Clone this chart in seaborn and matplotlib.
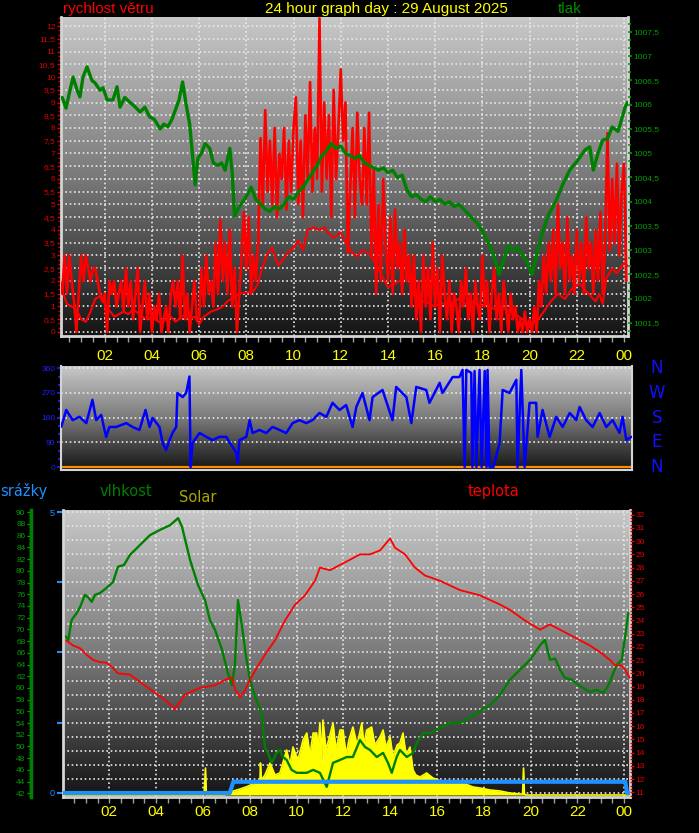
import numpy as np
import matplotlib
matplotlib.use("Agg")
import matplotlib.pyplot as plt
from matplotlib.ticker import MultipleLocator, FixedLocator, FuncFormatter
from matplotlib.colors import LinearSegmentedColormap
import seaborn as sns

sns.set_style("ticks")
plt.rcParams['font.family'] = ['Liberation Sans', 'DejaVu Sans']

# ---------------- data ----------------
hour_ticks = [2, 4, 6, 8, 10, 12, 14, 16, 18, 20, 22, 24]
hour_labels = ['02', '04', '06', '08', '10', '12', '14', '16', '18', '20', '22', '00']

# wind gust (m/s), one value every 6 minutes from 00:00
gust = [
    2.0, 2.0, 1.5, 3.0, 1.5, 3.0, 2.0, 1.2, 0.0, 1.5,
    3.0, 2.0, 3.0, 2.5, 2.0, 2.5, 2.5, 2.0, 1.5, 1.2,
    1.5, 0.0, 2.0, 1.5, 2.0, 1.0, 1.5, 2.0, 0.8, 2.5,
    1.0, 2.0, 0.5, 1.5, 2.5, 0.0, 1.0, 2.0, 0.5, 1.5,
    0.0, 1.0, 0.5, 1.5, 0.0, 0.5, 1.0, 0.0, 1.5, 2.0,
    1.0, 2.0, 0.5, 3.0, 0.5, 1.5, 0.0, 1.0, 2.0, 0.5,
    0.5, 2.5, 1.0, 3.0, 1.5, 2.0, 1.0, 3.5, 1.5, 4.4,
    2.0, 3.5, 1.5, 4.0, 1.0, 2.5, 0.0, 1.5, 3.0, 4.7,
    2.5, 4.5, 1.5, 3.0, 2.0, 3.5, 7.6, 5.0, 8.7, 5.5,
    7.5, 5.0, 8.0, 4.5, 7.0, 6.0, 8.0, 4.8, 7.5, 5.5,
    8.0, 9.2, 5.0, 7.5, 4.5, 8.5, 6.0, 9.8, 5.5, 8.0,
    6.0, 12.3, 5.5, 9.0, 6.0, 8.5, 4.5, 9.5, 6.0, 8.0,
    10.3, 7.5, 9.0, 3.1, 5.5, 8.0, 4.5, 8.6, 6.0, 5.0,
    8.0, 5.0, 8.6, 3.0, 6.4, 1.5, 5.0, 2.0, 6.0, 3.5,
    2.0, 4.5, 1.5, 4.8, 2.5, 3.5, 1.5, 4.0, 2.0, 3.0,
    1.0, 3.0, 0.5, 2.0, 0.0, 3.0, 1.0, 2.5, 0.5, 3.5,
    1.0, 2.5, 0.0, 3.0, 1.5, 0.5, 2.0, 0.0, 1.5, 1.0,
    0.0, 2.0, 1.0, 2.5, 0.5, 1.5, 0.0, 2.0, 1.0, 0.5,
    3.0, 1.0, 2.0, 0.0, 1.5, 2.5, 0.5, 1.5, 0.0, 2.0,
    1.0, 0.0, 1.5, 0.5, 1.0, 0.0, 0.5, 0.0, 0.8, 0.0,
    0.5, 0.0, 1.0, 0.0, 2.0, 1.0, 3.0, 1.5, 3.5, 2.0,
    4.0, 1.5, 5.0, 2.5, 3.5, 1.5, 4.5, 2.0, 3.0, 1.5,
    4.0, 2.0, 3.5, 1.5, 4.5, 2.5, 3.5, 1.5, 4.0, 2.0,
    4.7, 1.5, 3.5, 7.8, 3.2, 6.0, 3.5, 6.6, 3.0, 5.5,
    6.6, 2.0,
]
gust_hours = [round(i * 0.1, 1) for i in range(len(gust))]

# average wind speed (m/s)
avg_h = [0.2, 0.4, 0.6, 0.8, 1.0, 1.2, 1.4, 1.6, 1.8, 2.0, 2.2, 2.4, 2.6, 2.8, 3.0,
         3.2, 3.4, 3.6, 3.8, 4.0, 4.2, 4.4, 4.6, 4.8, 5.0, 5.2, 5.4, 5.6, 5.8, 6.0,
         6.2, 6.5, 6.8, 7.0, 7.2, 7.45, 7.7, 8.0, 8.3, 8.5, 8.6, 8.9, 9.1, 9.35, 9.6,
         9.75, 10.0, 10.2, 10.4, 10.6, 10.85, 11.1, 11.3, 11.45, 11.7, 12.0, 12.3,
         12.5, 12.7, 12.9, 13.15, 13.4, 13.7, 14.0, 14.3, 14.55, 14.85, 15.1, 15.3,
         15.5, 15.7, 15.96, 16.26, 16.55, 16.8, 17.0, 17.3, 17.6, 17.9, 18.2, 18.5,
         18.8, 19.1, 19.4, 19.7, 20.0, 20.3, 20.6, 20.9, 21.2, 21.5, 21.8, 22.1,
         22.4, 22.6, 22.8, 22.95, 23.1, 23.25, 23.5, 23.7, 24.0, 24.15]
avg_v = [1.6, 1.1, 1.0, 0.9, 0.5, 0.4, 0.8, 1.3, 1.4, 1.1, 0.85, 0.6, 0.7, 0.8, 0.7,
         0.9, 0.75, 0.6, 0.5, 0.6, 0.45, 0.35, 0.5, 0.6, 0.4, 0.55, 0.7, 0.5, 0.6, 0.3,
         0.6, 0.8, 0.9, 1.0, 1.2, 1.35, 1.5, 1.55, 1.6, 1.9, 2.3, 3.1, 3.3, 2.6, 2.9,
         3.1, 3.3, 3.6, 3.2, 4.0, 4.1, 4.0, 4.1, 3.9, 3.7, 3.9, 3.35,
         3.1, 2.95, 3.2, 3.1, 2.8, 2.3, 1.75, 1.9, 2.05, 2.15, 1.5, 1.0,
         1.2, 1.15, 1.0, 1.15, 1.0, 1.2, 1.3, 1.1, 1.2, 1.0, 1.1, 0.9,
         1.0, 0.8, 0.7, 0.5, 0.3, 0.4, 0.8, 1.2, 1.5, 1.3, 1.7, 1.9,
         1.6, 1.4, 1.2, 1.5, 1.1, 2.1, 2.5, 2.3, 2.7, 2.6]

# pressure (hPa)
press_h = [0.2, 0.36, 0.53, 0.66, 0.83, 0.95, 1.08, 1.25, 1.46, 1.59, 1.8, 1.93, 2.1,
           2.35, 2.52, 2.65, 2.85, 3.07, 3.3, 3.5, 3.7, 3.9, 4.1, 4.35, 4.5, 4.68, 4.85,
           5.0, 5.15, 5.3, 5.45, 5.6, 5.75, 5.83, 5.95, 6.1, 6.25, 6.45, 6.6, 6.8, 6.95,
           7.1, 7.3, 7.4, 7.5, 7.65, 7.85, 8.05, 8.2, 8.4, 8.6, 8.8, 9.0, 9.2, 9.4, 9.6,
           9.8, 10.0, 10.2, 10.4, 10.6, 10.8, 11.0, 11.2, 11.4, 11.6, 11.8, 12.0, 12.2,
           12.4, 12.6, 12.8, 13.0, 13.2, 13.4, 13.6, 13.8, 14.0, 14.2, 14.4, 14.6, 14.8,
           15.0, 15.2, 15.4, 15.6, 15.8, 16.0, 16.2, 16.4, 16.6, 16.8, 17.0, 17.2, 17.4,
           17.6, 17.8, 18.0, 18.2, 18.4, 18.6, 18.7, 18.9, 19.1, 19.3, 19.5, 19.7, 19.9,
           20.1, 20.3, 20.5, 20.8, 21.1, 21.4, 21.7, 22.05, 22.35, 22.55, 22.7, 22.9,
           23.1, 23.3, 23.5, 23.75, 23.9, 24.05, 24.15]
press_v = [1006.15, 1005.93, 1006.3, 1006.57, 1006.3, 1006.16, 1006.57, 1006.78, 1006.5,
           1006.45, 1006.3, 1006.35, 1006.1, 1006.1, 1006.37, 1005.95, 1006.15, 1006.05,
           1005.95, 1005.85, 1005.95, 1005.75, 1005.7, 1005.5, 1005.6, 1005.55, 1005.7,
           1005.9, 1006.1, 1006.47, 1006.0, 1005.6, 1004.8, 1004.35, 1004.9, 1005.0,
           1005.2, 1005.1, 1004.8, 1004.75, 1004.8, 1004.65, 1005.1, 1004.6, 1003.7,
           1003.85, 1004.0, 1004.15, 1004.3, 1004.05, 1003.95, 1003.85, 1003.8, 1003.9,
           1003.85, 1003.95, 1004.1, 1004.05, 1004.2, 1004.3, 1004.45, 1004.6, 1004.75,
           1004.95, 1005.05, 1005.2, 1005.1, 1005.15, 1005.0, 1004.95, 1004.9, 1004.95,
           1004.8, 1004.75, 1004.7, 1004.65, 1004.7, 1004.6, 1004.65, 1004.5, 1004.55,
           1004.25, 1004.1, 1004.15, 1004.05, 1004.0, 1004.1, 1004.0, 1004.05, 1003.95,
           1004.0, 1003.9, 1003.95, 1003.85, 1003.75, 1003.65, 1003.55, 1003.4, 1003.2,
           1003.0, 1002.7, 1002.5, 1002.8, 1003.1, 1003.0, 1003.05, 1002.9, 1002.75,
           1002.5, 1002.9, 1003.3, 1003.73, 1004.0, 1004.35, 1004.65, 1004.86, 1005.07,
           1005.13, 1004.65, 1005.0, 1005.27, 1005.3, 1005.54, 1005.45, 1005.7, 1005.95,
           1006.05]

# wind direction (deg)
dir_h = [0.16, 0.37, 0.64, 0.93, 1.22, 1.48, 1.64, 1.85, 2.06, 2.2, 2.49, 2.91, 3.18, 3.47,
         3.73, 3.9, 4.03, 4.32, 4.45, 4.6, 4.75, 4.87, 5.03, 5.08, 5.3, 5.45, 5.59, 5.64,
         5.72, 6.02, 6.3, 6.57, 6.86, 7.15, 7.42, 7.57, 7.63, 7.71, 8.0, 8.14, 8.26, 8.56,
         8.84, 9.11, 9.41, 9.69, 9.96, 10.25, 10.54, 10.8, 11.1, 11.39, 11.65, 11.95,
         12.23, 12.5, 12.66, 12.92, 13.22, 13.35, 13.77, 14.19, 14.35, 14.78, 14.99, 15.2,
         15.62, 15.76, 16.19, 16.31, 16.74, 17.03, 17.16, 17.25, 17.32, 17.53, 17.58,
         17.67, 17.75, 17.88, 17.97, 18.1, 18.18, 18.22, 18.3, 18.47, 18.73, 18.86, 19.15,
         19.44, 19.49, 19.65, 19.79, 20.0, 20.28, 20.34, 20.55, 20.85, 21.13, 21.4, 21.7,
         21.98, 22.12, 22.4, 22.67, 22.97, 23.25, 23.52, 23.81, 23.94, 24.1, 24.31]
dir_v = [147, 208, 171, 183, 160, 245, 171, 190, 110, 146, 146, 160, 146, 135,
         208, 146, 179, 146, 88, 62, 98, 124, 146, 270, 255, 270, 330, 0,
         88, 124, 110, 98, 110, 110, 73, 51, 15, 98, 110, 171, 124, 135,
         124, 146, 135, 124, 160, 171, 160, 171, 197, 183, 234, 208,
         226, 146, 219, 270, 171, 255, 281, 171, 292, 255, 160, 292,
         281, 234, 307, 270, 328, 328, 354, 0, 354, 343, 0,
         350, 0, 354, 0, 350, 0, 354, 0, 0, 88, 281, 270,
         318, 0, 354, 0, 234, 234, 110, 208, 110, 183, 146, 197,
         171, 219, 171, 146, 197, 146, 171, 124, 183, 98, 110]

# temperature (deg C)
temp_h = [0.15, 0.46, 0.75, 1.03, 1.32, 1.6, 1.89, 2.16, 2.37, 2.88, 3.74, 4.38, 4.81,
          5.24, 5.87, 6.52, 6.94, 7.24, 7.37, 7.59, 7.8, 8.01, 8.23, 8.65, 9.08, 9.51,
          9.94, 10.36, 10.79, 11.0, 11.43, 11.86, 12.29, 12.71, 13.14, 13.57, 14.0, 14.21,
          14.64, 15.06, 15.49, 16.13, 16.98, 17.84, 18.7, 19.12, 19.76, 20.41, 20.83,
          21.26, 21.9, 22.54, 22.97, 23.4, 23.61, 23.9, 24.04, 24.25]
temp_v = [22.5, 22.1, 21.9, 21.4, 21.0, 20.85, 20.8, 20.4, 20.0, 19.9, 18.8, 18.0, 17.3,
          18.4, 18.9, 19.1, 19.5, 19.7, 18.8, 18.2, 18.7, 19.5, 20.2, 21.4, 22.5, 24.0,
          25.2, 25.9, 27.0, 28.0, 27.8, 28.2, 28.6, 29.0, 29.0, 29.3, 30.2, 29.5,
          29.0, 28.0, 27.4, 27.0, 26.3, 25.9, 25.2, 24.8, 24.0, 23.3, 23.7,
          23.3, 22.7, 22.1, 21.6, 21.0, 20.6, 20.6, 20.25, 19.65]

# relative humidity (%)
hum_h = [0.15, 0.25, 0.39, 0.61, 0.75, 0.96, 1.09, 1.25, 1.39, 1.6, 1.89, 2.16, 2.37, 2.63,
         2.88, 3.31, 3.74, 4.17, 4.6, 4.94, 5.11, 5.45, 5.79, 6.09, 6.3, 6.52, 6.82, 7.07,
         7.24, 7.37, 7.5, 7.67, 7.84, 8.01, 8.23, 8.51, 8.65, 8.78, 8.94, 9.15, 9.29, 9.42,
         9.58, 9.79, 10.01, 10.44, 10.71, 11.0, 11.29, 11.56, 11.86, 12.15, 12.41, 12.71,
         12.93, 13.14, 13.43, 13.7, 13.91, 14.07, 14.28, 14.42, 14.71, 14.98, 15.14, 15.41,
         15.71, 15.99, 16.26, 16.56, 16.99, 17.41, 17.7, 18.27, 18.7, 19.12, 19.55, 19.98,
         20.41, 20.62, 20.83, 21.05, 21.26, 21.47, 21.77, 22.12, 22.54, 22.83, 23.1, 23.26,
         23.4, 23.53, 23.68, 23.9, 24.04, 24.18]
hum_v = [68.75, 68.2, 71.6, 72.8, 73.8, 75.9, 75.5, 74.7, 75.9, 76.2, 77.1, 78.1, 80.7, 81.0,
         82.7, 84.4, 86.1, 87.0, 87.8, 89.0, 87.5, 81.9, 77.6, 75.0, 71.6, 69.9, 66.5, 62.5,
         60.5, 64.0, 75.0, 70.5, 65.5, 61.4, 58.5, 55.7, 49.9, 48.9, 47.2, 48.9, 49.4, 48.2,
         47.7, 46.0, 45.5, 45.5, 46.0, 45.5, 43.1, 47.2, 47.7, 48.2, 48.2, 51.1,
         49.9, 49.4, 48.2, 48.9, 47.2, 45.5, 48.2, 49.4, 48.2, 48.9, 50.6, 52.3,
         52.3, 52.8, 53.4, 54.0, 54.0, 55.0, 55.7, 57.1, 58.8, 61.4, 63.1, 64.8,
         67.3, 68.2, 64.8, 65.0, 63.1, 61.7, 61.4, 60.3, 59.3, 59.7, 59.1, 60.0,
         61.1, 62.5, 63.9, 64.8, 68.75, 72.8]

# solar radiation (W/m2)
sol_h = [0.0, 5.87, 6.05, 6.11, 6.15, 6.94, 7.16, 7.59, 7.87, 8.23, 8.44, 8.46, 8.5, 8.65,
         8.87, 9.08, 9.29, 9.58, 9.72, 9.85, 10.06, 10.28, 10.44, 10.58, 10.71, 10.86, 10.92,
         11.0, 11.07, 11.13, 11.26, 11.43, 11.56, 11.69, 11.86, 11.99, 12.12, 12.24, 12.41,
         12.59, 12.79, 12.88, 13.0, 13.21, 13.35, 13.57, 13.7, 13.82, 14.0, 14.12, 14.3,
         14.42, 14.55, 14.68, 14.85, 14.98, 15.1, 15.28, 15.56, 15.83, 16.05, 16.42, 17.12,
         17.54, 17.84, 18.27, 18.7, 19.12, 19.55, 19.66, 19.7, 19.74, 19.81, 20.41, 24.25]
sol_v = [0, 0, 0, 270, 0, 0, 30, 60, 83, 120, 150, 320, 150, 200,
         320, 200, 220, 450, 300, 480, 350, 550, 620, 400, 620, 620, 450,
         720, 350, 750, 450, 600, 720, 450, 650, 650, 400, 550, 680,
         500, 720, 500, 650, 680, 500, 580, 650, 480, 580, 380, 500,
         520, 620, 400, 480, 250, 200, 180, 220, 170, 150, 120, 120,
         80, 70, 50, 40, 20, 10, 10, 270, 10, 0, 0, 0]

# cumulative rain (mm)
rain_h = [0.0, 7.15, 7.3, 24.05, 24.12, 24.25]
rain_v = [0.0, 0.0, 0.2, 0.2, 0.0, 0.0]

# ---------------- helpers ----------------
W, H = 699, 833
fig = plt.figure(figsize=(W / 100, H / 100), dpi=100, facecolor='black')


def px_axes(l, t, r, b):
    return fig.add_axes([l / W, 1 - b / H, (r - l) / W, (b - t) / H])


grad_cmap = LinearSegmentedColormap.from_list('bg', ['#c8c8c8', '#7a7a7a', '#141414'])


def gradient(ax):
    g = np.linspace(0, 1, 256).reshape(-1, 1)
    ax.imshow(g, aspect='auto', cmap=grad_cmap, extent=[0, 1, 0, 1],
              transform=ax.transAxes, zorder=0, interpolation='bilinear')


comma = FuncFormatter(lambda v, p: ('%g' % v).replace('.', ','))
GRID = dict(color='#e8e8e8', linestyle=(0, (1, 1.6)), linewidth=1.2)
FRAME = '#d4d4d4'
TICKSIZE = 6


def hide_spines(ax):
    for s in ax.spines.values():
        s.set_visible(False)


def line(ax, x, y, color, lw, z=3):
    sns.lineplot(x=x, y=y, ax=ax, color=color, linewidth=lw, estimator=None,
                 sort=False, zorder=z)


# ---------------- top panel: wind + pressure ----------------
ax1 = px_axes(61, 17, 628, 336)
ax1.set_facecolor('none')
gradient(ax1)
line(ax1, gust_hours, gust, '#ff0000', 1.9)
line(ax1, avg_h, avg_v, '#ff0000', 1.5)
ax1.set_xlim(0.148, 24.17)
ax1.set_ylim(-0.157, 12.353)
ax1.yaxis.set_major_locator(MultipleLocator(0.5))
ax1.yaxis.set_minor_locator(MultipleLocator(0.5 / 3))
ax1.yaxis.set_major_formatter(comma)
ax1.xaxis.set_major_locator(FixedLocator(hour_ticks))
ax1.xaxis.set_minor_locator(MultipleLocator(0.5))
ax1.set_xticklabels(hour_labels)
ax1.tick_params(axis='y', which='both', colors='#e00000', labelsize=TICKSIZE, width=1, pad=1)
ax1.tick_params(axis='y', which='major', length=3)
ax1.tick_params(axis='y', which='minor', length=2)
ax1.tick_params(axis='x', which='both', color='#a0a0a0', length=4, width=1,
                labelcolor='#ffff00', labelsize=11, pad=5)
ax1.set_axisbelow(True)
ax1.grid(True, which='major', **GRID)
ax1.set_xlabel('')
ax1.set_ylabel('')
for k, s in ax1.spines.items():
    s.set_color(FRAME)
    s.set_linewidth(2)
ax1.spines['top'].set_visible(False)

ax1b = ax1.twinx()
line(ax1b, press_h, press_v, '#008000', 2.4)
ax1b.set_ylim(1001.232, 1007.809)
ax1b.yaxis.set_major_locator(MultipleLocator(0.5))
ax1b.yaxis.set_minor_locator(MultipleLocator(0.5 / 3))
ax1b.yaxis.set_major_formatter(comma)
ax1b.tick_params(axis='y', which='both', colors='#00a000', labelsize=TICKSIZE, width=1.2, pad=1)
ax1b.tick_params(axis='y', which='major', length=3)
ax1b.tick_params(axis='y', which='minor', length=2)
ax1b.set_ylabel('')
hide_spines(ax1b)

fig.text(108 / W, 1 - 9 / H, 'rychlost větru', color='#ff0000', fontsize=11,
         ha='center', va='center')
fig.text(386 / W, 1 - 9 / H, '24 hour graph day : 29 August 2025', color='#ffff00',
         fontsize=11, ha='center', va='center')
fig.text(570 / W, 1 - 9 / H, 'tlak', color='#009000', fontsize=11,
         ha='center', va='center')

# ---------------- middle panel: wind direction ----------------
ax2 = px_axes(61, 366, 632, 470)
ax2.set_facecolor('none')
gradient(ax2)
ax2.axhline(0, color='#ff8c00', linewidth=1.6, zorder=2)
line(ax2, dir_h, dir_v, '#0000ff', 1.8)
ax2.set_xlim(0.148, 24.34)
ax2.set_ylim(-10.9, 368.4)
ax2.yaxis.set_major_locator(FixedLocator([0, 90, 180, 270, 360]))
ax2.yaxis.set_minor_locator(MultipleLocator(30))
ax2.tick_params(axis='y', which='both', colors='#2020ff', labelsize=TICKSIZE, width=1.2, pad=1)
ax2.tick_params(axis='y', which='major', length=3)
ax2.tick_params(axis='y', which='minor', length=2)
ax2.set_xticks([])
ax2.set_axisbelow(True)
ax2.grid(True, axis='y', which='major', **GRID)
ax2.set_xlabel('')
ax2.set_ylabel('')
for k, s in ax2.spines.items():
    s.set_color(FRAME)
    s.set_linewidth(1.5)
ax2.spines['top'].set_visible(False)
for lab, val in zip(['N', 'W', 'S', 'E', 'N'], [360, 270, 180, 90, 0]):
    ax2.text(1.0438, val, lab, transform=ax2.get_yaxis_transform(), color='#1010ff',
             fontsize=12, ha='center', va='center', family='DejaVu Sans')

# ---------------- bottom panel ----------------
ax3 = px_axes(62.7, 510, 630, 797)
ax3.set_facecolor('none')
gradient(ax3)
ax3.set_xlim(0.01, 24.25)
ax3.set_ylim(-0.0712, 5.0356)
ax3.yaxis.set_major_locator(FixedLocator([0, 1.25, 2.5, 3.75, 5]))
ax3.set_yticklabels(['0', '', '', '', '5'])
ax3.yaxis.set_minor_locator(MultipleLocator(0.25))
ax3.tick_params(axis='y', which='major', colors='#1e90ff', labelsize=6.5, length=4,
                width=1.5, pad=2)
ax3.tick_params(axis='y', which='minor', length=0)
ax3.xaxis.set_major_locator(FixedLocator(hour_ticks))
ax3.xaxis.set_minor_locator(MultipleLocator(0.5))
ax3.set_xticklabels(hour_labels)
ax3.tick_params(axis='x', which='both', color='#a0a0a0', length=4, width=1,
                labelcolor='#ffff00', labelsize=11, pad=2)
ax3.set_axisbelow(True)
ax3.grid(True, axis='y', which='both', **GRID)
ax3.grid(True, axis='x', which='major', **GRID)
for k, s in ax3.spines.items():
    s.set_color(FRAME)
    s.set_linewidth(2)
ax3.spines['top'].set_visible(False)

# solar
ax3s = ax3.twinx()
ax3s.fill_between(sol_h, 0, sol_v, color='#ffff00', linewidth=0, zorder=2)
line(ax3s, sol_h, sol_v, '#ffff00', 1.2)
ax3s.set_ylim(-20, 2850)
ax3s.set_yticks([])
ax3s.set_ylabel('')
hide_spines(ax3s)

# humidity
ax3h = ax3.twinx()
line(ax3h, hum_h, hum_v, '#008000', 1.7)
ax3h.set_ylim(41.37, 90.39)
hide_spines(ax3h)
ax3h.spines['left'].set_visible(True)
ax3h.spines['left'].set_position(('axes', -0.0559))
ax3h.spines['left'].set_color('#008000')
ax3h.spines['left'].set_linewidth(2.5)
ax3h.yaxis.tick_left()
ax3h.yaxis.set_major_locator(MultipleLocator(2))
ax3h.yaxis.set_minor_locator(MultipleLocator(0.5))
ax3h.tick_params(axis='y', which='both', colors='#00a000', labelsize=TICKSIZE, width=1, pad=1)
ax3h.tick_params(axis='y', which='major', length=3)
ax3h.tick_params(axis='y', which='minor', length=1.5)
ax3h.set_ylabel('')

# temperature
ax3t = ax3.twinx()
line(ax3t, temp_h, temp_v, '#ff0000', 1.3)
ax3t.set_ylim(10.644, 32.356)
hide_spines(ax3t)
ax3t.yaxis.set_major_locator(MultipleLocator(1))
ax3t.yaxis.set_minor_locator(MultipleLocator(0.25))
ax3t.tick_params(axis='y', which='both', colors='#e00000', labelsize=TICKSIZE, width=1, pad=1)
ax3t.tick_params(axis='y', which='major', length=3)
ax3t.tick_params(axis='y', which='minor', length=1.5)
ax3t.set_ylabel('')

# rain
ax3r = ax3.twinx()
line(ax3r, rain_h, rain_v, '#1e90ff', 3, z=4)
ax3r.set_ylim(-0.0712, 5.0356)
ax3r.set_yticks([])
ax3r.set_ylabel('')
hide_spines(ax3r)

fig.text(24 / W, 1 - 491 / H, 'srážky', color='#1e90ff', fontsize=10.5,
         ha='center', va='center', family='DejaVu Sans')
fig.text(126 / W, 1 - 491 / H, 'vlhkost', color='#008000', fontsize=10.5,
         ha='center', va='center', family='DejaVu Sans')
fig.text(198 / W, 1 - 498 / H, 'Solar', color='#a8a800', fontsize=10.5,
         ha='center', va='center', family='DejaVu Sans')
fig.text(493 / W, 1 - 491 / H, 'teplota', color='#ff0000', fontsize=10.5,
         ha='center', va='center', family='DejaVu Sans')

fig.savefig('out.png', dpi=100, facecolor='black')
